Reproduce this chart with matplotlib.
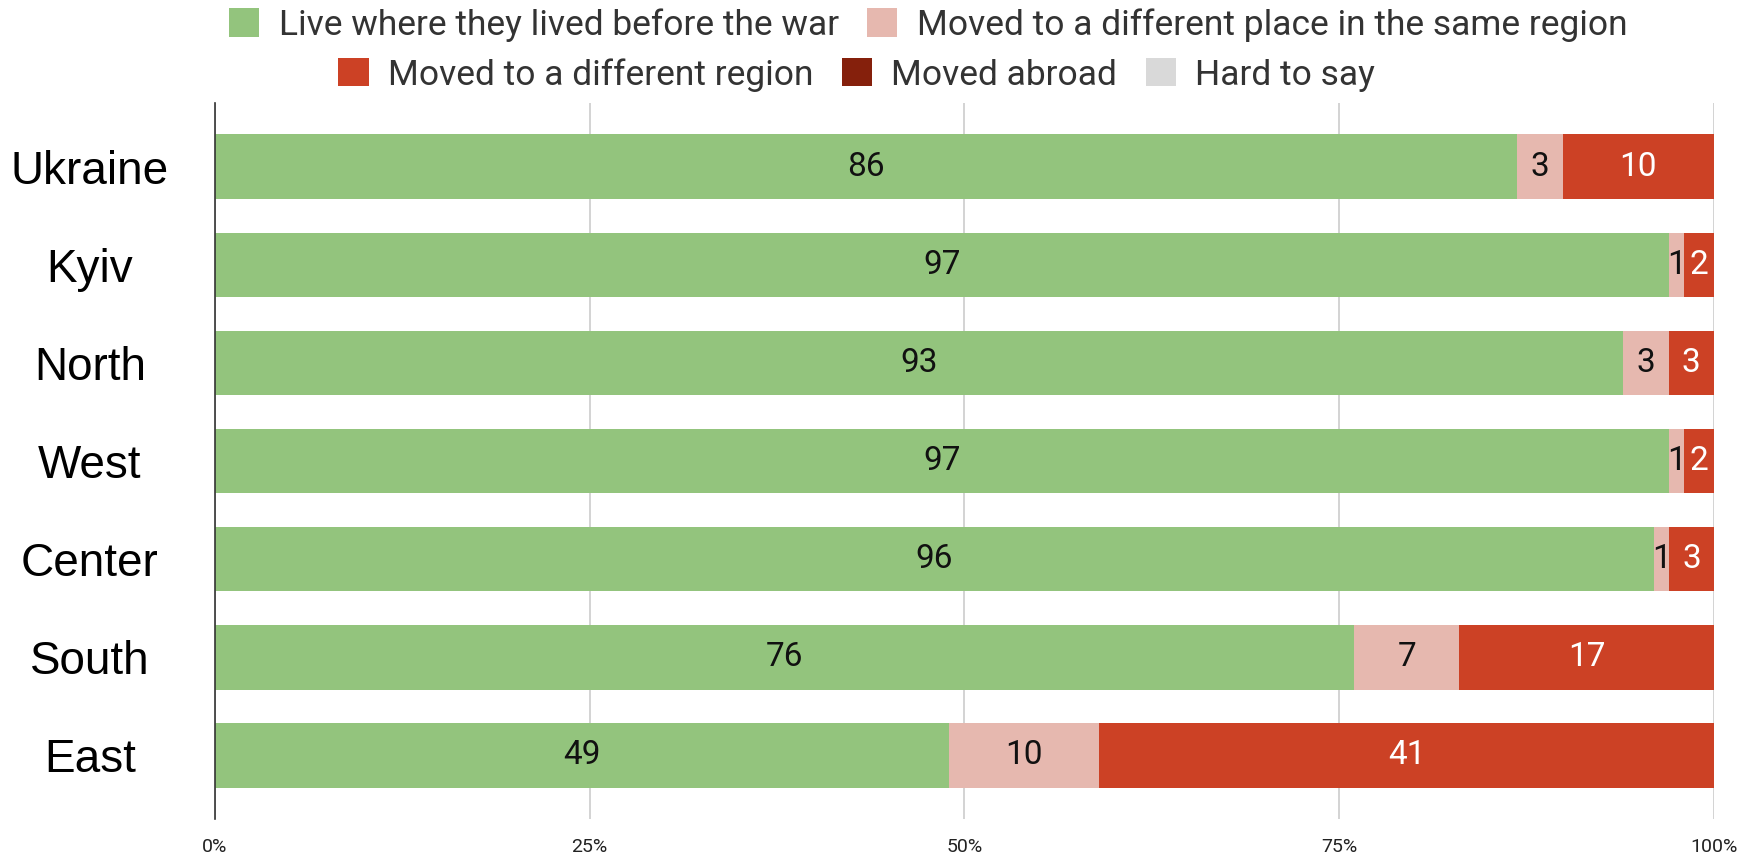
import numpy as np
import matplotlib.pyplot as plt
from matplotlib.patches import Patch

##### data
regions = ["Ukraine", "Kyiv", "North", "West", "Center", "South", "East"]
stayed = [86, 97, 93, 97, 96, 76, 49]
same_region = [3, 1, 3, 1, 1, 7, 10]
other_region = [10, 2, 3, 2, 3, 17, 41]
abroad = [0, 0, 0, 0, 0, 0, 0]
hard_to_say = [0, 0, 0, 0, 0, 0, 0]

series_names = ["Live where they lived before the war",
                "Moved to a different place in the same region",
                "Moved to a different region",
                "Moved abroad",
                "Hard to say"]
colors = ["#93c47d", "#e6b8af", "#cc4125", "#85200c", "#d9d9d9"]
label_colors = ["#111111", "#111111", "white", "white", "#111111"]
xticks = [0, 25, 50, 75, 100]

##### plot
series = np.array([stayed, same_region, other_region, abroad, hard_to_say], dtype=float)
totals = series.sum(axis=0)
shares = series / totals * 100

fig = plt.figure(figsize=(17.45, 8.59), dpi=100)
ax = fig.add_axes([0.1232, 0.0466, 0.859, 0.8334])

y = np.arange(len(regions))
left = np.zeros(len(regions))
for i in range(len(series_names)):
    bars = ax.barh(y, shares[i], left=left, height=0.66, color=colors[i], zorder=2)
    for j, b in enumerate(bars):
        if series[i][j] > 0:
            ax.text(left[j] + shares[i][j] / 2, y[j], "%d" % series[i][j],
                    ha="center", va="center", fontsize=24, family="Roboto",
                    color=label_colors[i], zorder=3)
    left = left + shares[i]

ax.set_xlim(0, 100)
ax.set_ylim(len(regions) - 0.35, -0.65)
ax.set_xticks(xticks)
ax.set_xticklabels(["%d%%" % t for t in xticks], fontsize=14, family="Roboto", color="#222222")
ax.set_yticks(y)
ax.set_yticklabels(regions, fontsize=33, family="Liberation Sans", ha="center")
ax.tick_params(axis="y", length=0, pad=90)
ax.tick_params(axis="x", length=0, pad=14)
ax.grid(axis="x", color="#cccccc", linewidth=1.2, zorder=0)
for s in ["top", "right", "bottom"]:
    ax.spines[s].set_visible(False)
ax.spines["left"].set_color("#333333")
ax.spines["left"].set_linewidth(1.2)
ax.spines["left"].set_zorder(4)

handles = [Patch(facecolor=c, edgecolor="none") for c in colors]
leg_kw = dict(frameon=False, prop={"family": "Roboto", "size": 25.5}, handlelength=0.85,
              handleheight=0.85, handletextpad=0.55, columnspacing=0.8, borderpad=0)
leg1 = fig.legend(handles[:2], series_names[:2], loc="center", ncol=2,
                  bbox_to_anchor=(0.532, 0.971), **leg_kw)
leg2 = fig.legend(handles[2:], series_names[2:], loc="center", ncol=3,
                  bbox_to_anchor=(0.491, 0.913), **leg_kw)
for leg in (leg1, leg2):
    for t in leg.get_texts():
        t.set_color("#333333")

fig.savefig("out.png", dpi=100)
